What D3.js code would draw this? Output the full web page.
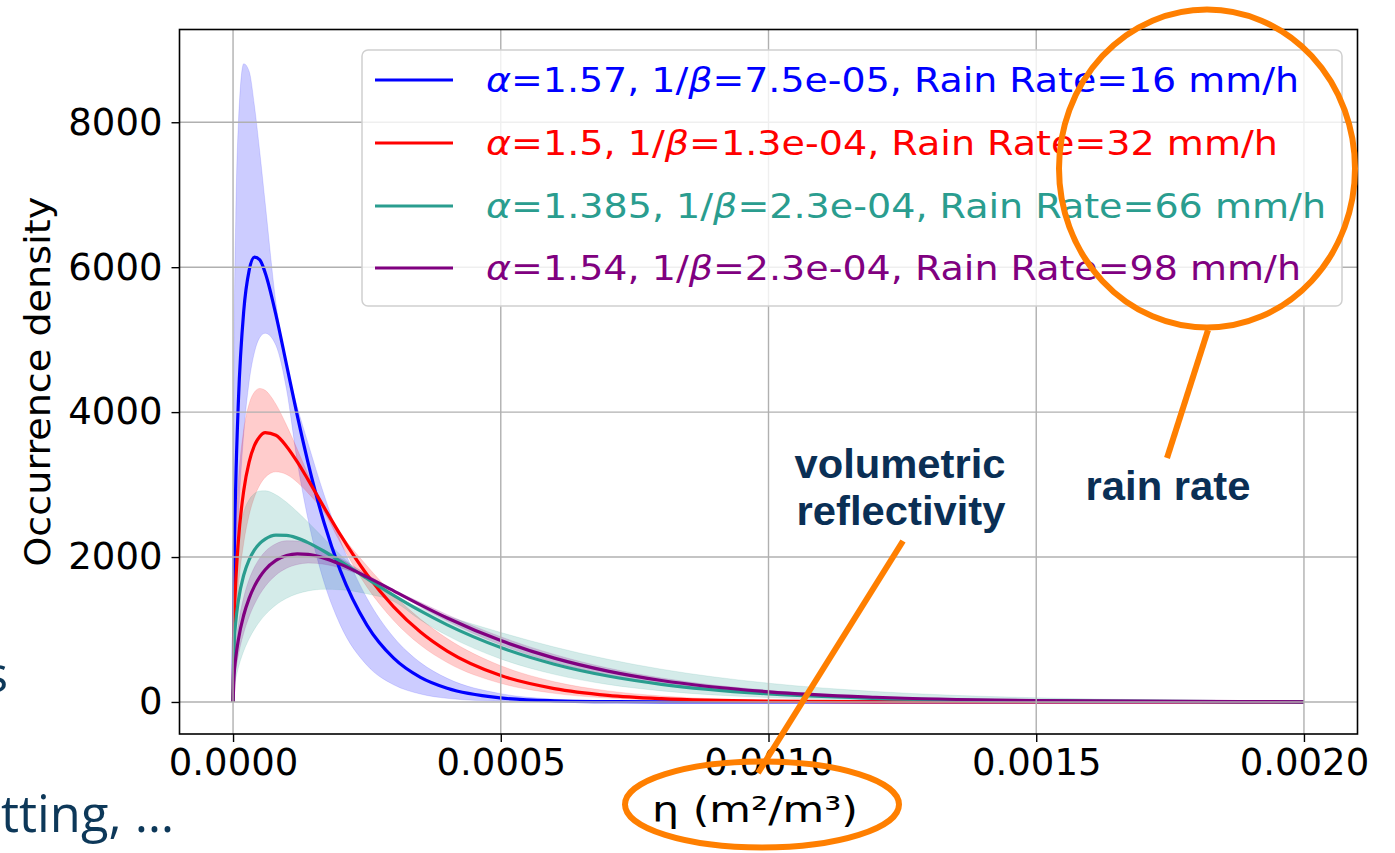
<!DOCTYPE html>
<html>
<head>
<meta charset="utf-8">
<script src="https://cdn.jsdelivr.net/npm/d3@7"></script>
<style>
  html, body { margin: 0; padding: 0; background: #ffffff; }
  svg { display: block; }
</style>
</head>
<body>
<svg id="chart" width="1395" height="853"></svg>
<script>
// ---------------- data ----------------
const eta = [0, 0.000002, 0.000005, 0.00001, 0.00002, 0.00003, 0.00004, 0.00005, 0.00006, 0.00008,
  0.0001, 0.00012, 0.00014, 0.00017, 0.0002, 0.00025, 0.0003, 0.00035, 0.0004, 0.0005,
  0.0006, 0.0007, 0.0008, 0.001, 0.0012, 0.0015, 0.002];

const blue     = [0,1846,2991,4155,5398,5953,6138,6100,5924,5346,4650,3951,3304,2473,1819,1061,604,339,188,56,16,4.7,1.3,0.1,0,0,0];
const blueLo   = [0,860,1618,2526,3709,4417,4825,5030,5088,4922,4308,3313,2522,1651,1067,507,237,110,50,10,2,0,0,0,0,0,0];
const blueHi   = [0,4948,6669,7989,8808,8705,8226,7585,6887,5514,4650,4070,3572,2859,2236,1434,892,543,326,114,39,13,4,0.4,0,0,0];

const red      = [0,1060,1638,2229,2919,3311,3540,3664,3717,3680,3527,3313,3068,2685,2312,1759,1312,965,702,364,185,92,46,11,2.6,0.3,0];
const redLo    = [0,681,1117,1594,2197,2578,2829,2995,3099,3176,3139,3032,2884,2618,2204,1588,1124,785,544,257,119,54,25,5,1,0,0];
const redHi    = [0,1619,2345,3032,3757,4112,4277,4327,4301,4109,3818,3487,3145,2685,2335,1879,1478,1144,875,500,279,153,83,24,6.7,1,0];

const teal     = [0,781,1097,1401,1752,1961,2098,2188,2247,2302,2299,2261,2199,2080,1944,1704,1471,1256,1064,751,521,358,244,111,50,15,1.9];
const tealLo   = [0,182,316,476,704,872,1005,1113,1202,1338,1432,1494,1532,1555,1549,1493,1388,1131,916,594,381,242,153,61,24,5.7,0.5];
const tealHi   = [0,1514,1922,2273,2621,2791,2876,2912,2915,2859,2755,2624,2481,2256,2034,1704,1471,1297,1183,959,758,589,452,259,144,58,12];

const purple   = [0,374,606,862,1200,1430,1599,1727,1825,1954,2021,2044,2036,1985,1902,1726,1533,1340,1159,847,605,426,296,140,65,20,2.6];
const purpleLo = [0,244,427,645,953,1176,1348,1485,1594,1750,1846,1897,1917,1901,1850,1714,1531,1314,1116,788,545,372,251,112,49,14,1.6];
const purpleHi = [0,503,781,1076,1447,1690,1861,1985,2076,2183,2225,2221,2187,2098,1982,1759,1549,1375,1205,900,656,469,331,161,76,24,3.3];

const alphas     = ["1.57", "1.5", "1.385", "1.54"];
const invBetas   = ["7.5e-05", "1.3e-04", "2.3e-04", "2.3e-04"];
const rainRates  = ["16", "32", "66", "98"];
const colors     = ["#0000ff", "#ff0000", "#2a9d8f", "#800080"];

const xTicks = [0, 0.0005, 0.001, 0.0015, 0.002];
const xTickLabels = ["0.0000", "0.0005", "0.0010", "0.0015", "0.0020"];
const yTicks = [0, 2000, 4000, 6000, 8000];
const yTickLabels = ["0", "2000", "4000", "6000", "8000"];

// ---------------- layout ----------------
const svg = d3.select("#chart");
const L = 179.5, R = 1357.5, T = 29.5, B = 734;

const x = d3.scaleLinear().domain([-0.0001, 0.0021]).range([L, R]);
const y = d3.scaleLinear().domain([-442, 9280]).range([B, T]);

const series = [
  { mid: blue, lo: blueLo, hi: blueHi },
  { mid: red, lo: redLo, hi: redHi },
  { mid: teal, lo: tealLo, hi: tealHi },
  { mid: purple, lo: purpleLo, hi: purpleHi }
];

const clip = svg.append("defs").append("clipPath").attr("id", "plotclip");
clip.append("rect").attr("x", L).attr("y", T).attr("width", R - L).attr("height", B - T);

const plot = svg.append("g").attr("clip-path", "url(#plotclip)");

// bands
const area = d3.area()
  .x((d, i) => x(eta[i]))
  .y0(d => y(d[0]))
  .y1(d => y(d[1]))
  .curve(d3.curveMonotoneX);

series.forEach((s, k) => {
  const pts = eta.map((e, i) => [s.lo[i], s.hi[i]]);
  plot.append("path")
    .attr("d", area(pts))
    .attr("fill", colors[k])
    .attr("fill-opacity", 0.2)
    .attr("stroke", colors[k])
    .attr("stroke-opacity", 0.12)
    .attr("stroke-width", 1);
});

// grid
const grid = svg.append("g");
xTicks.forEach(t => {
  grid.append("line").attr("x1", x(t)).attr("x2", x(t)).attr("y1", T).attr("y2", B)
    .attr("stroke", "#b0b0b0").attr("stroke-width", 1.4);
});
yTicks.forEach(t => {
  grid.append("line").attr("x1", L).attr("x2", R).attr("y1", y(t)).attr("y2", y(t))
    .attr("stroke", "#b0b0b0").attr("stroke-width", 1.4);
});

// lines
const line = d3.line()
  .x((d, i) => x(eta[i]))
  .y(d => y(d))
  .curve(d3.curveMonotoneX);

series.forEach((s, k) => {
  plot.append("path")
    .attr("d", line(s.mid))
    .attr("fill", "none")
    .attr("stroke", colors[k])
    .attr("stroke-width", 3.2)
    .attr("stroke-linejoin", "round");
});

// frame
svg.append("rect").attr("x", L).attr("y", T).attr("width", R - L).attr("height", B - T)
  .attr("fill", "none").attr("stroke", "#000").attr("stroke-width", 1.6);

// axes
const xAxis = d3.axisBottom(x).tickValues(xTicks).tickFormat((d, i) => xTickLabels[i])
  .tickSizeOuter(0).tickSize(8).tickPadding(7);
const gx = svg.append("g").attr("transform", `translate(0,${B})`).call(xAxis);
gx.select(".domain").remove();
gx.selectAll(".tick line").attr("stroke", "#000").attr("stroke-width", 1.4);
gx.selectAll(".tick text").attr("font-family", "DejaVu Sans").attr("font-size", 37).attr("fill", "#000");

const yAxis = d3.axisLeft(y).tickValues(yTicks).tickFormat((d, i) => yTickLabels[i])
  .tickSizeOuter(0).tickSize(8).tickPadding(9);
const gy = svg.append("g").attr("transform", `translate(${L},0)`).call(yAxis);
gy.select(".domain").remove();
gy.selectAll(".tick line").attr("stroke", "#000").attr("stroke-width", 1.4);
gy.selectAll(".tick text").attr("font-family", "DejaVu Sans").attr("font-size", 37).attr("fill", "#000");

// axis titles
svg.append("text")
  .attr("transform", `translate(50,${(T + B) / 2}) rotate(-90)`)
  .attr("text-anchor", "middle")
  .attr("font-family", "DejaVu Sans").attr("font-size", 36)
  .attr("textLength", 370).attr("lengthAdjust", "spacingAndGlyphs")
  .text("Occurrence density");

svg.append("text")
  .attr("x", 755).attr("y", 822)
  .attr("text-anchor", "middle")
  .attr("font-family", "DejaVu Sans").attr("font-size", 36)
  .attr("textLength", 206).attr("lengthAdjust", "spacingAndGlyphs")
  .text("η (m²/m³)");

// legend
const lg = svg.append("g");
lg.append("rect").attr("x", 362).attr("y", 50).attr("width", 980).attr("height", 256)
  .attr("rx", 6).attr("fill", "#fff").attr("fill-opacity", 0.8)
  .attr("stroke", "#d0d0d0").attr("stroke-width", 1.5);
const rowY = [80, 143, 206, 268];
const textLen = [813, 792, 840, 815];
alphas.forEach((a, k) => {
  lg.append("line").attr("x1", 375).attr("x2", 453).attr("y1", rowY[k]).attr("y2", rowY[k])
    .attr("stroke", colors[k]).attr("stroke-width", 3);
  const t = lg.append("text").attr("x", 486).attr("y", rowY[k] + 12)
    .attr("font-family", "DejaVu Sans").attr("font-size", 34).attr("fill", colors[k])
    .attr("textLength", textLen[k]).attr("lengthAdjust", "spacingAndGlyphs");
  t.append("tspan").attr("font-style", "italic").text("α");
  t.append("tspan").text(`=${a}, 1/`);
  t.append("tspan").attr("font-style", "italic").text("β");
  t.append("tspan").text(`=${invBetas[k]}, Rain Rate=${rainRates[k]} mm/h`);
});

// slide text fragments
const navy = "#0d3859";
svg.append("text").attr("x", 8).attr("y", 692).attr("text-anchor", "end")
  .attr("font-family", "Open Sans").attr("font-size", 50).attr("fill", navy).text("s");
svg.append("text").attr("x", 1).attr("y", 832)
  .attr("font-family", "Open Sans").attr("font-size", 52).attr("fill", navy)
  .attr("textLength", 173).attr("lengthAdjust", "spacingAndGlyphs")
  .text("tting, …");

// annotations
const ann = svg.append("g");
ann.append("ellipse").attr("cx", 1207).attr("cy", 168.5).attr("rx", 148).attr("ry", 159)
  .attr("fill", "none").attr("stroke", "#ff7f00").attr("stroke-width", 6);
ann.append("line").attr("x1", 1208).attr("y1", 330).attr("x2", 1167).attr("y2", 458)
  .attr("stroke", "#ff7f00").attr("stroke-width", 6);
ann.append("ellipse").attr("cx", 762).attr("cy", 804.5).attr("rx", 137).attr("ry", 43)
  .attr("fill", "none").attr("stroke", "#ff7f00").attr("stroke-width", 6);
ann.append("line").attr("x1", 903).attr("y1", 541).attr("x2", 758).attr("y2", 773)
  .attr("stroke", "#ff7f00").attr("stroke-width", 6);

const bold = { family: "Liberation Sans", size: 41, color: "#0a2f55" };
[["volumetric", 900, 478, 211], ["reflectivity", 901, 525, 209], ["rain rate", 1168, 500, 165]]
  .forEach(([txt, cx, by, w]) => {
    ann.append("text").attr("x", cx).attr("y", by).attr("text-anchor", "middle")
      .attr("font-family", bold.family).attr("font-weight", "bold")
      .attr("font-size", bold.size).attr("fill", bold.color)
      .attr("textLength", w).attr("lengthAdjust", "spacingAndGlyphs")
      .text(txt);
  });
</script>
</body>
</html>
